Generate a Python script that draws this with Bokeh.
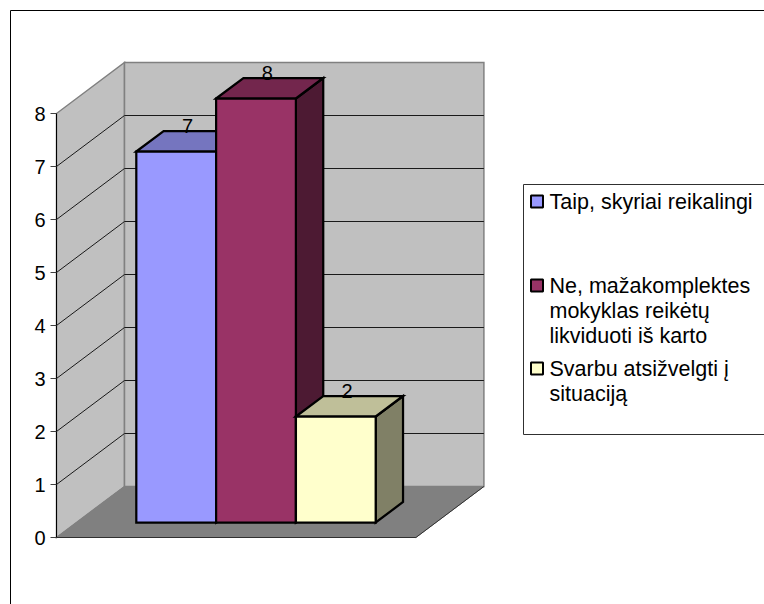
from bokeh.core.properties import value
from bokeh.embed import file_html
from bokeh.models import FixedTicker, Range1d
from bokeh.plotting import figure
from bokeh.resources import INLINE

# ---- data -----------------------------------------------------------------
categories = ["Taip, skyriai reikalingi",
              "Ne, mažakomplektes mokyklas reikėtų likviduoti iš karto",
              "Svarbu atsižvelgti į situaciją"]
values = [7, 8, 2]
tick_values = [0, 1, 2, 3, 4, 5, 6, 7, 8]
legend_lines = [["Taip, skyriai reikalingi"],
                ["Ne, mažakomplektes", "mokyklas reikėtų", "likviduoti iš karto"],
                ["Svarbu atsižvelgti į", "situaciją"]]
front_colors = ["#9999FF", "#993366", "#FFFFCC"]
top_colors = ["#7575BF", "#73264D", "#BFBF99"]
side_colors = ["#4D4D80", "#4D1A33", "#808066"]

# ---- geometry -------------------------------------------------------------
W, H = 764, 604
OX, OY = 0, 0            # page offset of the figure
AX, AY = 56, 537         # page position of the value-axis origin
PX_PER_UNIT = 53.0
DEPTH_X, DEPTH_Y = 68, 51
FLOOR_W = 359.4
BAR_W = 79.8
BAR_GAP = 59.8
BAR_D0, BAR_D1 = 15 / 51, 35.5 / 51
FONT = value("Liberation Sans")
FS = "21.5px"
NUM_FS = "20px"


def X(px):
    return px - AX


def Y(py):
    return (AY - py) / PX_PER_UNIT


def proj(x, v, d=0.0):
    """Oblique projection: x along the floor, v a value, d depth fraction."""
    return x + d * DEPTH_X, v + d * DEPTH_Y / PX_PER_UNIT


p = figure(width=W, height=H, output_backend="svg", toolbar_location=None,
           min_border=0, x_axis_location=None,
           x_range=Range1d(X(OX), X(OX + W)),
           y_range=Range1d(Y(OY + H), Y(OY)))
p.outline_line_color = None
p.grid.visible = False
p.background_fill_color = "white"
p.border_fill_color = "white"

ax = p.yaxis[0]
ax.fixed_location = 0
ax.bounds = (min(tick_values), max(tick_values))
ax.ticker = FixedTicker(ticks=tick_values)
ax.axis_line_color = "#000000"
ax.axis_line_width = 1
ax.major_tick_line_color = "#404040"
ax.major_tick_out = 6
ax.major_tick_in = 0
ax.minor_tick_line_color = None
ax.major_label_text_font = "Liberation Sans"
ax.major_label_text_font_size = NUM_FS
ax.major_label_text_color = "#000000"
ax.major_label_standoff = 5

vmax = max(tick_values)


def poly(corners, fill, line="#000000", lw=2.25):
    xs, ys = zip(*corners)
    p.patch(list(xs), list(ys), fill_color=fill, line_color=line, line_width=lw,
            line_join="miter")


# outer chart border (page left and top edges of the chart area)
p.line([X(10), X(10), X(OX + W)], [Y(OY + H), Y(10), Y(10)],
       line_color="#000000", line_width=1)

# walls and floor
poly([proj(0, 0), proj(0, vmax), proj(0, vmax, 1), proj(0, 0, 1)], "#C0C0C0", "#808080", 1.5)
poly([proj(0, 0, 1), proj(0, vmax, 1), proj(FLOOR_W, vmax, 1), proj(FLOOR_W, 0, 1)],
     "#C0C0C0", "#808080", 1.5)
poly([proj(0, 0), proj(FLOOR_W, 0), proj(FLOOR_W, 0, 1), proj(0, 0, 1)], "#808080", "#808080", 1)

# gridlines
for t in tick_values[1:-1]:
    a, b = proj(0, t), proj(0, t, 1)
    c = proj(FLOOR_W, t, 1)
    p.line([a[0], b[0], c[0]], [a[1], b[1], c[1]], line_color="#1A1A1A", line_width=1)

# floor front edges
a, b, c = proj(0, 0), proj(FLOOR_W, 0), proj(FLOOR_W, 0, 1)
p.line([a[0], b[0], c[0]], [a[1], b[1], c[1]], line_color="#303030", line_width=1)

# bars
for i, v in enumerate(values):
    x0 = BAR_GAP + i * BAR_W
    x1 = x0 + BAR_W
    poly([proj(x1, 0, BAR_D0), proj(x1, v, BAR_D0), proj(x1, v, BAR_D1), proj(x1, 0, BAR_D1)], side_colors[i])
    poly([proj(x0, v, BAR_D0), proj(x0, v, BAR_D1), proj(x1, v, BAR_D1), proj(x1, v, BAR_D0)], top_colors[i])
    poly([proj(x0, 0, BAR_D0), proj(x0, v, BAR_D0), proj(x1, v, BAR_D0), proj(x1, 0, BAR_D0)], front_colors[i])

# data labels
for i, v in enumerate(values):
    lx, ly = proj(BAR_GAP + (i + 0.5) * BAR_W, v, BAR_D1)
    p.text([lx - 16], [ly + 5 / PX_PER_UNIT], text=[str(v)], text_font=FONT, text_font_size=NUM_FS,
           text_align="center", text_baseline="middle", text_color="#000000")

# legend
p.quad(left=[X(523)], right=[X(OX + W + 4)], top=[Y(184)], bottom=[Y(434)],
       fill_color="white", line_color="#303030", line_width=1)
line_ys = [[201], [285, 310, 335], [368, 393]]
for i, lines in enumerate(legend_lines):
    p.scatter([X(536.5)], [Y(line_ys[i][0])], marker="square", size=12,
              fill_color=front_colors[i], line_color="#000000", line_width=2)
    for s, y in zip(lines, line_ys[i]):
        p.text([X(549)], [Y(y)], text=[s], text_font=FONT, text_font_size=FS,
               text_align="left", text_baseline="middle", text_color="#000000")

open("out.html", "w").write(file_html(p, INLINE))
